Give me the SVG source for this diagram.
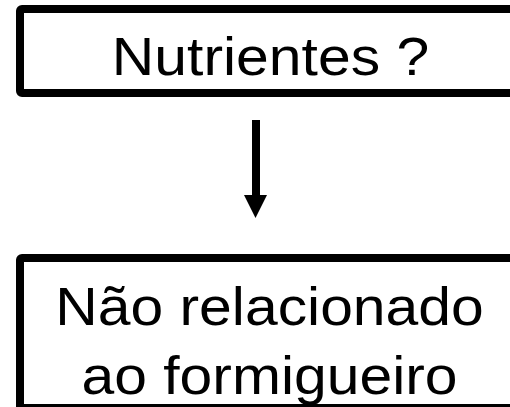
<svg xmlns="http://www.w3.org/2000/svg" width="510" height="407" viewBox="0 0 510 407">
<style>
.box{fill:#fff;stroke:#000;stroke-width:8;}
.t{font-family:"Liberation Sans",Arial,sans-serif;font-size:54px;fill:#000;text-anchor:middle;}
</style>
<rect width="510" height="407" fill="#fff"/>
<g id="node1">
<rect class="box" x="20" y="9" width="500" height="84" rx="2"/>
<text class="t" transform="translate(270.5,75) scale(1.09,1)">Nutrientes ?</text>
</g>
<g id="connectors">
<line x1="256" y1="120" x2="256" y2="197" stroke="#000" stroke-width="8"/>
<polygon points="244,195 267,195 255.5,218" fill="#000"/>
</g>
<g id="node2">
<rect class="box" x="20" y="258" width="500" height="150" rx="2"/>
<text class="t" transform="translate(269.5,325) scale(1.09,1)">Não relacionado</text>
<text class="t" transform="translate(269.5,394) scale(1.09,1)">ao formigueiro</text>
</g>
</svg>
